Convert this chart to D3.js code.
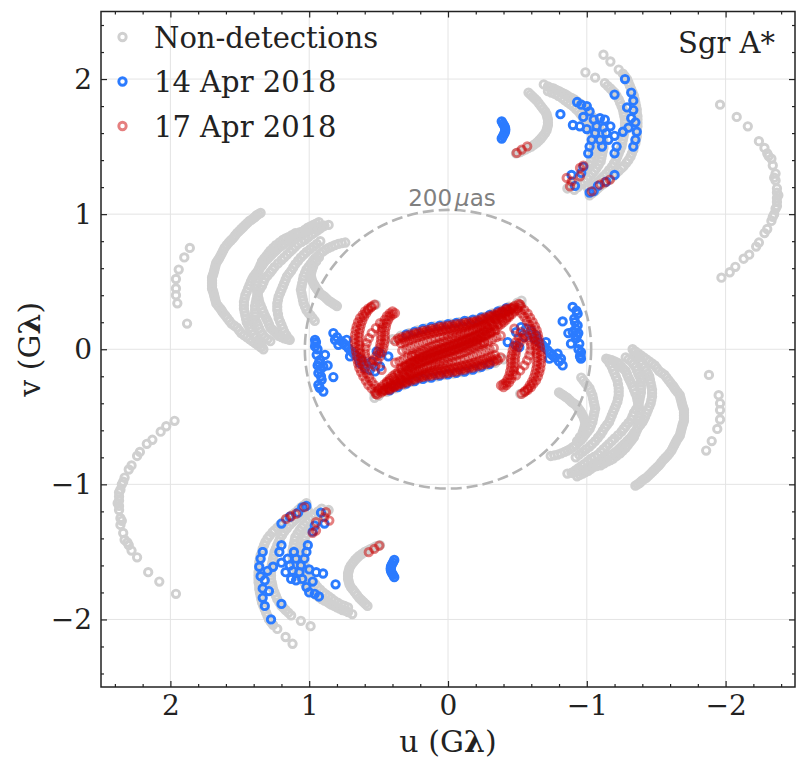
<!DOCTYPE html>
<html>
<head>
<meta charset="utf-8">
<script src="https://cdn.jsdelivr.net/npm/d3@7"></script>
<style>
  body { margin: 0; background: #fff; }
  svg text { font-family: "DejaVu Serif", serif; fill: #222; }
</style>
</head>
<body>
<svg id="chart" width="806" height="771"></svg>
<script>
// uv points in G-lambda, one half of the plane only:
// every baseline also samples the conjugate point (-u, -v), added when drawing.

// non-detections, long outer arcs
const nonDetOuter = [
  [1.97,-0.53],[2.03,-0.57],[2.07,-0.61],[2.13,-0.67],[2.17,-0.70],[2.22,-0.76],[2.24,-0.79],[2.28,-0.86],
  [2.30,-0.89],[2.33,-0.95],[2.34,-0.98],[2.35,-1.00],[2.36,-1.04],[2.37,-1.06],[2.37,-1.09],[2.37,-1.12],
  [2.38,-1.14],[2.37,-1.16],[2.37,-1.19],[2.36,-1.25],[2.35,-1.27],[2.36,-1.30],[2.34,-1.36],[2.33,-1.41],
  [2.31,-1.43],[2.30,-1.45],[2.28,-1.49],[2.24,-1.54],[2.16,-1.65],[2.08,-1.72],[1.96,-1.81],
  [1.86,0.75],[1.90,0.68],[1.94,0.59],[1.96,0.52],[1.96,0.45],[1.96,0.40],[1.95,0.34],[1.88,0.19]
];

// non-detections, the thick bands west of the centre
const nonDetBands = [
  // arc A
  [1.35,1.01],[1.365,1.00],[1.38,0.99],[1.39,0.98],[1.40,0.97],[1.415,0.96],[1.43,0.95],[1.445,0.935],
  [1.46,0.92],[1.475,0.905],[1.49,0.89],[1.505,0.875],[1.52,0.86],[1.535,0.84],[1.55,0.82],[1.565,0.805],
  [1.58,0.79],[1.595,0.77],[1.61,0.75],[1.62,0.73],[1.63,0.71],[1.64,0.69],[1.65,0.67],[1.66,0.655],
  [1.67,0.64],[1.675,0.62],[1.68,0.60],[1.685,0.58],[1.69,0.56],[1.695,0.545],[1.70,0.53],[1.70,0.51],
  [1.70,0.49],[1.70,0.47],[1.70,0.45],[1.695,0.435],[1.69,0.42],[1.685,0.40],[1.68,0.38],[1.675,0.36],
  [1.67,0.34],[1.655,0.32],[1.64,0.30],[1.63,0.285],[1.62,0.27],[1.605,0.25],[1.59,0.23],[1.575,0.21],
  [1.56,0.19],[1.54,0.175],[1.52,0.16],[1.505,0.14],[1.49,0.12],[1.47,0.105],[1.45,0.09],[1.43,0.075],
  [1.41,0.06],[1.39,0.045],[1.37,0.03],[1.35,0.015],[1.33,0.00],
  // band B, outer track
  [0.93,0.94],[0.95,0.93],[0.97,0.92],[0.99,0.91],[1.01,0.90],[1.03,0.885],[1.05,0.87],[1.07,0.86],
  [1.09,0.85],[1.115,0.83],[1.14,0.81],[1.16,0.795],[1.18,0.78],[1.20,0.765],[1.22,0.75],[1.235,0.735],
  [1.25,0.72],[1.27,0.70],[1.29,0.68],[1.305,0.665],[1.32,0.65],[1.33,0.635],[1.34,0.62],[1.355,0.60],
  [1.37,0.58],[1.385,0.56],[1.40,0.54],[1.41,0.52],[1.42,0.50],[1.43,0.475],[1.44,0.45],[1.45,0.425],
  [1.46,0.40],[1.465,0.375],[1.47,0.35],[1.47,0.325],[1.47,0.30],[1.465,0.275],[1.46,0.25],[1.455,0.225],
  [1.45,0.20],[1.44,0.18],[1.43,0.16],[1.415,0.135],[1.40,0.11],[1.385,0.085],[1.37,0.06],[1.355,0.04],[1.34,0.02],
  // band B, middle tracks
  [0.90,0.91],[0.92,0.895],[0.94,0.88],[0.96,0.865],[0.98,0.85],[1.005,0.83],[1.03,0.81],[1.055,0.795],
  [1.08,0.78],[1.10,0.76],[1.12,0.74],[1.14,0.72],[1.16,0.70],[1.18,0.68],[1.20,0.66],[1.225,0.635],
  [1.25,0.61],[1.265,0.59],[1.28,0.57],[1.30,0.545],[1.32,0.52],[1.33,0.495],[1.34,0.47],[1.355,0.445],
  [1.37,0.42],[1.375,0.395],[1.38,0.37],[1.385,0.345],[1.39,0.32],[1.39,0.295],[1.39,0.27],[1.39,0.245],
  [1.39,0.22],[1.38,0.20],[1.37,0.18],[1.36,0.155],[1.35,0.13],[1.335,0.11],[1.32,0.09],[1.30,0.075],[1.28,0.06],
  [0.86,0.92],[0.89,0.915],[0.92,0.91],[0.95,0.90],[0.98,0.89],[1.01,0.88],[1.04,0.87],[1.07,0.865],
  [1.10,0.86],[1.125,0.845],[1.15,0.83],[1.17,0.82],[1.19,0.81],[1.215,0.79],[1.24,0.77],[1.26,0.75],
  [1.28,0.73],[1.295,0.71],[1.31,0.69],[1.325,0.67],[1.34,0.65],[1.35,0.625],[1.36,0.60],[1.365,0.575],
  [1.37,0.55],[1.375,0.525],[1.38,0.50],[1.38,0.475],[1.38,0.45],[1.375,0.425],[1.37,0.40],[1.365,0.375],
  [1.36,0.35],[1.35,0.325],[1.34,0.30],[1.33,0.275],[1.32,0.25],[1.31,0.23],[1.30,0.21],[1.29,0.185],
  [1.28,0.16],[1.265,0.145],[1.25,0.13],[1.235,0.115],[1.22,0.10],[1.20,0.09],[1.18,0.08],[1.16,0.075],[1.14,0.07],
  // band B, inner track
  [0.92,0.80],[0.945,0.78],[0.97,0.76],[0.995,0.74],[1.02,0.72],[1.04,0.70],[1.06,0.68],[1.08,0.655],
  [1.10,0.63],[1.115,0.605],[1.13,0.58],[1.145,0.56],[1.16,0.54],[1.17,0.515],[1.18,0.49],[1.19,0.465],
  [1.20,0.44],[1.21,0.415],[1.22,0.39],[1.225,0.365],[1.23,0.34],[1.23,0.315],[1.23,0.29],[1.225,0.26],
  [1.22,0.23],[1.21,0.205],[1.20,0.18],[1.19,0.155],[1.18,0.13],[1.165,0.105],[1.15,0.08],
  // arcs C and D
  [0.74,0.79],[0.765,0.785],[0.79,0.78],[0.815,0.77],[0.84,0.76],[0.86,0.75],[0.88,0.74],[0.90,0.725],
  [0.92,0.71],[0.94,0.69],[0.96,0.67],[0.975,0.65],[0.99,0.63],[1.005,0.61],[1.02,0.59],[1.03,0.565],
  [1.04,0.54],[1.045,0.515],[1.05,0.49],[1.055,0.465],[1.06,0.44],[1.055,0.415],[1.05,0.39],[1.045,0.365],
  [1.04,0.34],[1.03,0.315],[1.02,0.29],[1.005,0.27],[0.99,0.25],[0.975,0.23],[0.96,0.21],
  [0.80,0.32],[0.815,0.33],[0.83,0.34],[0.845,0.35],[0.86,0.36],[0.875,0.375],[0.89,0.39],[0.905,0.40],
  [0.92,0.41],[0.93,0.425],[0.94,0.44],[0.95,0.455],[0.96,0.47],[0.97,0.49],[0.98,0.51],[0.985,0.53],
  [0.99,0.55],[0.985,0.57],[0.98,0.59],[0.975,0.605],[0.97,0.62],[0.95,0.65],[0.93,0.68]
];

// non-detections, north-east group
const nonDetNorth = [
  [-1.12,2.18],[-1.17,2.13],[-1.23,2.07],[-1.26,2.04],[-1.275,2.02],[-1.29,2.00],[-1.30,1.975],[-1.31,1.95],
  [-1.32,1.925],[-1.33,1.90],[-1.34,1.875],[-1.345,1.85],[-1.35,1.825],[-1.355,1.80],[-1.36,1.775],[-1.36,1.75],
  [-1.365,1.725],[-1.365,1.70],[-1.365,1.675],[-1.365,1.65],[-1.36,1.625],[-1.36,1.60],[-1.36,1.575],[-1.355,1.55],
  [-1.35,1.525],[-1.34,1.50],[-1.335,1.475],[-1.325,1.45],[-1.315,1.425],[-1.30,1.40],[-1.285,1.38],[-1.265,1.355],
  [-1.25,1.34],[-1.23,1.32],[-1.21,1.30],[-1.19,1.28],[-1.165,1.26],[-1.14,1.24],[-1.12,1.225],[-1.10,1.21],
  [-1.08,1.19],[-1.06,1.17],[-1.04,1.155],[-1.02,1.14],
  [-0.99,2.05],[-1.06,2.01],[-1.13,1.97],[-1.15,1.95],[-1.17,1.93],[-1.185,1.915],[-1.20,1.90],[-1.215,1.875],
  [-1.23,1.85],[-1.24,1.825],[-1.25,1.80],[-1.26,1.775],[-1.265,1.75],[-1.27,1.725],[-1.275,1.70],[-1.275,1.675],
  [-1.275,1.65],[-1.275,1.625],[-1.27,1.60],[-1.265,1.575],[-1.26,1.55],[-1.255,1.525],[-1.25,1.50],[-1.24,1.475],
  [-1.23,1.45],[-1.22,1.425],[-1.21,1.40],[-1.195,1.375],[-1.18,1.35],[-1.16,1.325],[-1.14,1.30],[-1.12,1.28],
  [-1.10,1.26],[-1.08,1.24],[-1.06,1.22],[-1.035,1.205],[-1.01,1.19],
  [-0.69,1.96],[-0.72,1.945],[-0.74,1.935],[-0.76,1.93],[-0.78,1.92],[-0.80,1.91],[-0.82,1.90],[-0.84,1.89],
  [-0.855,1.88],[-0.87,1.87],[-0.89,1.86],[-0.91,1.85],[-0.93,1.835],[-0.95,1.82],[-0.965,1.805],[-0.98,1.79],
  [-0.995,1.775],[-1.01,1.76],[-1.025,1.74],[-1.04,1.72],[-1.055,1.70],[-1.07,1.68],[-1.08,1.66],[-1.09,1.64],
  [-1.10,1.615],[-1.11,1.59],[-1.115,1.565],[-1.12,1.54],[-1.12,1.515],[-1.12,1.49],[-1.115,1.465],[-1.11,1.44],
  [-1.105,1.415],[-1.10,1.39],[-1.085,1.365],[-1.07,1.34],[-1.055,1.32],[-1.04,1.30],[-1.02,1.28],[-1.00,1.26],
  [-0.98,1.24],[-0.96,1.22],[-0.935,1.20],[-0.91,1.18],
  [-0.72,1.91],[-0.745,1.90],[-0.77,1.89],[-0.795,1.875],[-0.82,1.86],[-0.84,1.845],[-0.86,1.83],[-0.88,1.815],
  [-0.90,1.80],[-0.92,1.78],[-0.94,1.76],[-0.955,1.74],[-0.97,1.72],[-0.985,1.70],[-1.00,1.68],[-1.01,1.66],
  [-1.02,1.64],[-1.03,1.615],[-1.04,1.59],[-1.045,1.565],[-1.05,1.54],[-1.05,1.515],[-1.05,1.49],[-1.045,1.465],
  [-1.04,1.44],[-1.035,1.415],[-1.03,1.39],[-1.015,1.365],[-1.00,1.34],[-0.985,1.32],[-0.97,1.30],[-0.95,1.28],
  [-0.93,1.26],[-0.91,1.24],[-0.89,1.22],[-0.875,1.205],[-0.86,1.19],
  [-0.58,1.90],[-0.595,1.885],[-0.61,1.87],[-0.625,1.855],[-0.64,1.84],[-0.655,1.82],[-0.67,1.80],[-0.685,1.78],
  [-0.70,1.76],[-0.71,1.74],[-0.715,1.72],[-0.72,1.70],[-0.72,1.68],[-0.72,1.66],[-0.715,1.64],[-0.71,1.62],
  [-0.70,1.60],[-0.685,1.58],[-0.67,1.56],[-0.655,1.545],[-0.64,1.53],[-0.62,1.515],[-0.60,1.50],[-0.58,1.49],
  [-0.56,1.48],[-0.54,1.47],[-0.52,1.46],[-0.505,1.455],[-0.49,1.45]
];

// non-detections hidden under the short baselines
const nonDetCore = [
  [0.40,0.075],[0.34,0.10],[0.28,0.12],[0.22,0.14],[0.16,0.155],[0.10,0.17],[0.04,0.18],[-0.02,0.19],
  [-0.08,0.20],[-0.14,0.21],[-0.20,0.22],[-0.26,0.24],[-0.32,0.265],[-0.38,0.29],[-0.44,0.315],[-0.50,0.345],
  [-0.53,0.36],[0.52,0.33],[0.53,-0.33]
];

// 14 Apr 2018
const apr14North = [
  [-1.275,2.00],[-1.32,1.90],[-1.335,1.84],[-1.335,1.77],[-1.32,1.71],[-1.35,1.68],[-1.36,1.61],[-1.35,1.55],
  [-1.335,1.50],[-1.29,1.79],[-1.30,1.64],[-1.26,1.61],
  [-1.20,1.885],[-1.215,1.50],[-1.20,1.45],[-1.20,1.58],[-1.17,1.65],[-1.14,1.60],[-0.93,1.83],[-0.96,1.81],
  [-1.00,1.80],[-1.02,1.76],[-0.975,1.72],[-1.05,1.70],[-1.095,1.71],[-1.13,1.70],[-1.095,1.55],[-1.035,1.55],
  [-1.02,1.50],[-1.01,1.45],[-1.11,1.50],[-0.95,1.65],[-0.90,1.66],[-0.81,1.74],[-1.00,1.63],[-1.06,1.60],
  [-1.07,1.65],[-1.12,1.64],[-1.155,1.55],
  [-0.89,1.29],[-0.915,1.21],[-0.975,1.35],[-0.96,1.305],[-1.02,1.16],[-1.05,1.17],[-1.08,1.21],[-1.14,1.24],[-1.20,1.29],
  [-0.387,1.687],[-0.396,1.670],[-0.405,1.655],[-0.411,1.64],[-0.413,1.625],[-0.411,1.61],[-0.405,1.595],
  [-0.396,1.578],[-0.387,1.56]
];

const apr14Core = [
  [0.958,0.07],[0.958,0.021],[0.946,-0.041],[0.922,-0.078],[0.886,-0.041],[0.898,-0.128],[0.934,-0.176],
  [0.91,-0.226],[0.934,-0.263],[0.898,-0.313],[0.826,-0.206],[0.939,-0.12],[0.951,0.053],[0.867,-0.12],[0.94,0.00],
  [0.955,0.045],[0.93,-0.10],[0.92,-0.15],[0.915,-0.20],[0.925,-0.285],
  [0.826,0.120],[0.814,0.070],[0.790,0.033],[0.754,0.046],[0.730,0.070],[0.718,0.009],[0.694,-0.016],
  [0.706,-0.053],[0.670,-0.041],[0.646,-0.065],[0.634,-0.102],[0.598,-0.139],[0.562,-0.152],[0.526,-0.164],
  [0.514,-0.016],[0.490,-0.028],[0.430,-0.053],[0.550,-0.090],[0.586,-0.115],[0.490,-0.127],
  [0.80,0.09],[0.77,0.06],[0.74,0.03],[0.68,-0.03],[0.62,-0.08],
  [0.30,0.11],[0.24,0.13],[0.18,0.15],[0.12,0.165],[0.06,0.175],[0.00,0.185],[-0.06,0.195],[-0.12,0.21],
  [-0.18,0.22],[-0.24,0.235],[-0.30,0.255],[-0.36,0.28],[-0.42,0.305]
];

// 17 Apr 2018
const apr17North = [
  [-0.495,1.453],[-0.531,1.478],[-0.571,1.502],[-0.855,1.268],[-0.879,1.206],[-0.891,1.243],[-0.951,1.342],
  [-0.951,1.28],[-0.975,1.359],[-1.035,1.169],[-1.095,1.219],[-1.131,1.236],[-1.167,1.256]
];

const apr17Core = [
  // curved tracks west of the centre
  [0.55,0.317],[0.575,0.30],[0.598,0.28],[0.615,0.255],[0.634,0.231],[0.648,0.20],[0.658,0.169],[0.665,0.14],
  [0.67,0.107],[0.672,0.075],[0.67,0.046],[0.667,0.015],[0.663,-0.016],[0.658,-0.047],[0.653,-0.078],
  [0.647,-0.108],[0.639,-0.139],[0.626,-0.17],[0.61,-0.201],[0.592,-0.232],[0.574,-0.263],[0.55,-0.29],[0.526,-0.313],
  [0.53,0.33],[0.555,0.31],[0.575,0.29],[0.59,0.265],[0.605,0.24],[0.618,0.21],[0.628,0.18],[0.635,0.15],
  [0.64,0.12],[0.642,0.09],[0.642,0.06],[0.64,0.03],[0.636,0.00],[0.632,-0.03],[0.627,-0.06],[0.62,-0.09],
  [0.612,-0.12],[0.60,-0.15],[0.585,-0.18],[0.568,-0.21],[0.55,-0.24],[0.53,-0.265],[0.505,-0.29],
  [0.382,0.268],[0.40,0.256],[0.418,0.243],[0.43,0.22],[0.442,0.194],[0.448,0.163],[0.454,0.132],[0.455,0.10],
  [0.454,0.07],[0.46,0.04],[0.466,0.009],[0.476,-0.022],[0.49,-0.053],[0.509,-0.09],
  [0.40,0.28],[0.42,0.265],[0.44,0.245],[0.455,0.22],[0.467,0.19],[0.475,0.16],[0.48,0.13],[0.482,0.10],
  [0.483,0.07],[0.487,0.04],[0.493,0.01],[0.503,-0.02],[0.517,-0.05],[0.535,-0.08],
  [0.49,0.194],[0.52,0.157],[0.55,0.12],[0.57,0.083],[0.586,0.046],[0.595,0.01],[0.598,-0.028],[0.59,-0.06],
  [0.574,-0.09],[0.55,-0.11],[0.526,-0.127],[0.478,-0.152],
  // the dense central band
  [0.36,0.08],[0.33,0.09],[0.30,0.10],[0.27,0.11],[0.24,0.12],[0.21,0.127],[0.18,0.135],[0.15,0.142],
  [0.12,0.15],[0.09,0.157],[0.06,0.165],[0.03,0.17],[0.00,0.175],[-0.03,0.18],[-0.06,0.185],[-0.09,0.19],
  [-0.12,0.195],[-0.15,0.20],[-0.18,0.205],[-0.21,0.213],[-0.24,0.225],[-0.27,0.235],[-0.30,0.247],[-0.33,0.258],
  [-0.36,0.27],[-0.39,0.282],[-0.42,0.293],[-0.45,0.305],[-0.48,0.32],[-0.51,0.335],
  [0.38,0.06],[0.35,0.07],[0.32,0.078],[0.29,0.088],[0.26,0.098],[0.23,0.108],[0.20,0.115],[0.17,0.122],
  [0.14,0.13],[0.11,0.137],[0.08,0.145],[0.05,0.15],[0.02,0.155],[-0.01,0.16],[-0.04,0.165],[-0.07,0.17],
  [-0.10,0.177],[-0.13,0.183],[-0.16,0.19],[-0.19,0.197],[-0.22,0.205],[-0.25,0.215],[-0.28,0.227],[-0.31,0.24],
  [-0.34,0.25],[-0.37,0.262],[-0.40,0.275],[-0.43,0.288],[-0.46,0.30],
  [0.52,-0.33],[0.50,-0.305],[0.48,-0.28],[0.46,-0.26],[0.44,-0.24],[0.42,-0.22],[0.40,-0.20],[0.38,-0.185],
  [0.36,-0.17],[0.33,-0.147],[0.30,-0.125],[0.27,-0.105],[0.24,-0.09],[0.21,-0.075],[0.18,-0.06],[0.15,-0.047],
  [0.12,-0.035],[0.09,-0.024],[0.06,-0.012],[0.03,0.00],[0.00,0.01],[-0.03,0.021],[-0.06,0.032],[-0.09,0.045],
  [-0.12,0.06],[-0.15,0.072],[-0.18,0.085],[-0.21,0.10],[-0.24,0.115],[-0.27,0.133],[-0.30,0.152],[-0.33,0.172],
  [-0.36,0.19],[-0.39,0.212],[-0.42,0.235],[-0.44,0.25],
  [0.38,-0.10],[0.35,-0.09],[0.32,-0.075],[0.29,-0.06],[0.26,-0.05],[0.23,-0.04],[0.20,-0.03],[0.17,-0.02],
  [0.14,-0.012],[0.11,-0.005],[0.08,0.003],[0.05,0.012],[0.02,0.02],[-0.01,0.03],[-0.04,0.04],[-0.07,0.05],
  [-0.10,0.06],[-0.13,0.07],[-0.16,0.08],[-0.19,0.09],[-0.22,0.10],[-0.25,0.11],[-0.28,0.12],[-0.31,0.13],
  [0.33,-0.01],[0.30,0.00],[0.27,0.015],[0.24,0.027],[0.21,0.039],[0.18,0.05],[0.15,0.061],[0.12,0.07],
  [0.09,0.078],[0.06,0.085],[0.03,0.092],[0.00,0.10],[-0.03,0.108],[-0.06,0.115],[-0.09,0.122],[-0.12,0.13],
  [-0.15,0.137],[-0.18,0.15],[-0.21,0.161],[-0.24,0.172],[-0.27,0.183],[-0.30,0.20],[-0.34,0.225],
  [0.42,-0.30],[0.39,-0.277],[0.36,-0.255],[0.33,-0.232],[0.30,-0.21],[0.27,-0.187],[0.24,-0.17],[0.21,-0.155],
  [0.18,-0.14],[0.15,-0.125],[0.12,-0.112],[0.09,-0.10],[0.06,-0.09],[0.03,-0.079],[0.00,-0.067],[-0.03,-0.056],
  [-0.06,-0.045],[-0.09,-0.034],[-0.12,-0.02],[-0.15,-0.005],[-0.18,0.01],[-0.21,0.025],[-0.24,0.04],[-0.26,0.05],
  [0.34,0.045],[0.31,0.057],[0.28,0.068],[0.25,0.08],[0.22,0.09],[0.19,0.10],[0.16,0.108],[0.13,0.116],
  [0.10,0.123],[0.07,0.13],[0.04,0.135],[0.01,0.14],[-0.02,0.145],[-0.05,0.15],[-0.08,0.157],[-0.11,0.163],
  [-0.14,0.17],[-0.17,0.177],[-0.20,0.185],[-0.23,0.195],[-0.26,0.207],[-0.29,0.22],[-0.32,0.232],[-0.35,0.245],
  [-0.38,0.258],[-0.41,0.27],[-0.44,0.282],[-0.47,0.295],
  [0.47,-0.31],[0.44,-0.28],[0.41,-0.255],[0.38,-0.23],[0.35,-0.205],[0.32,-0.18],[0.29,-0.16],[0.26,-0.14],
  [0.23,-0.122],[0.20,-0.105],[0.17,-0.09],[0.14,-0.077],[0.11,-0.065],[0.08,-0.053],[0.05,-0.042],[0.02,-0.03],
  [-0.01,-0.02],[-0.04,-0.008],[-0.07,0.005],[-0.10,0.018],[-0.13,0.03],[-0.16,0.043],[-0.19,0.057],[-0.22,0.072],
  [-0.25,0.088],[-0.28,0.104],[-0.31,0.12],[-0.34,0.14]
];

const majorTicks = [-2, -1, 0, 1, 2];
const minorTicks = [-2.4, -2.2, -1.8, -1.6, -1.4, -1.2, -0.8, -0.6, -0.4, -0.2,
                    0.2, 0.4, 0.6, 0.8, 1.2, 1.4, 1.6, 1.8, 2.2, 2.4];
const legendLabels = ["Non-detections", "14 Apr 2018", "17 Apr 2018"];
const ringMicroArcsec = 200;

const colors = { nondet: "#d0d0d0", apr14: "#2b7bff", apr17: "#cc0000" };

const svg = d3.select("#chart");
const plotLeft = 101, plotRight = 795, plotTop = 11.5, plotBottom = 687;
const markerR = 3.7, markerW = 2.9;

const x = d3.scaleLinear().domain([2.5, -2.5]).range([plotLeft, plotRight]);
const y = d3.scaleLinear().domain([-2.5, 2.5]).range([plotBottom, plotTop]);

const fmt = (d) => (d < 0 ? "\u2212" + Math.abs(d) : String(d));

// grid
const grid = svg.append("g").attr("stroke", "#e4e4e4").attr("stroke-width", 1);
grid.selectAll(".gx").data(majorTicks).join("line")
  .attr("x1", (d) => x(d)).attr("x2", (d) => x(d))
  .attr("y1", plotTop).attr("y2", plotBottom);
grid.selectAll(".gy").data(majorTicks).join("line")
  .attr("y1", (d) => y(d)).attr("y2", (d) => y(d))
  .attr("x1", plotLeft).attr("x2", plotRight);

// both halves of the uv plane
const withConjugate = (pts) => pts.flatMap(([u, v]) => [[u, v], [-u, -v]]);

const drawSeries = (data, color, opacity) => {
  svg.append("g")
    .selectAll("circle")
    .data(withConjugate(data))
    .join("circle")
    .attr("cx", (d) => x(d[0]))
    .attr("cy", (d) => y(d[1]))
    .attr("r", markerR)
    .attr("fill", "none")
    .attr("stroke", color)
    .attr("stroke-opacity", opacity)
    .attr("stroke-width", markerW);
};

drawSeries([].concat(nonDetOuter, nonDetBands, nonDetNorth, nonDetCore), colors.nondet, 1);

// 200 micro-arcsecond fringe spacing circle
const ringRadius = 1 / (ringMicroArcsec * 1e-6 / 206264.806) / 1e9;
svg.append("ellipse")
  .attr("cx", x(0)).attr("cy", y(0))
  .attr("rx", x(0) - x(ringRadius))
  .attr("ry", y(0) - y(ringRadius))
  .attr("fill", "none")
  .attr("stroke", "#b4b4b4")
  .attr("stroke-width", 2.6)
  .attr("stroke-dasharray", "11,5");

const ringLabel = svg.append("text")
  .attr("x", x(0) + 4)
  .attr("y", y(ringRadius) - 4)
  .attr("text-anchor", "middle")
  .style("font-family", "'DejaVu Sans', sans-serif")
  .style("font-size", "23px")
  .style("fill", "#808080");
ringLabel.append("tspan").text("200");
ringLabel.append("tspan").attr("dx", 3).style("font-style", "italic").text("\u03bc");
ringLabel.append("tspan").text("as");

drawSeries([].concat(apr14North, apr14Core), colors.apr14, 1);
drawSeries([].concat(apr17North, apr17Core), colors.apr17, 0.5);

// axes, ticks pointing inward on all four sides
const styleAxis = (g) => {
  g.select(".domain").remove();
  g.selectAll(".tick line").attr("stroke", "#222").attr("stroke-width", 1.2);
  g.selectAll(".tick text").style("font-size", "28px").style("fill", "#222");
};

svg.append("g").attr("transform", `translate(0,${plotBottom})`)
  .call(d3.axisBottom(x).tickValues(majorTicks).tickSize(-6).tickPadding(8).tickFormat(fmt))
  .call(styleAxis);
svg.append("g").attr("transform", `translate(${plotLeft},0)`)
  .call(d3.axisLeft(y).tickValues(majorTicks).tickSize(-6).tickPadding(9).tickFormat(fmt))
  .call(styleAxis);
svg.append("g").attr("transform", `translate(0,${plotTop})`)
  .call(d3.axisTop(x).tickValues(majorTicks).tickSize(-6).tickFormat(""))
  .call(styleAxis);
svg.append("g").attr("transform", `translate(${plotRight},0)`)
  .call(d3.axisRight(y).tickValues(majorTicks).tickSize(-6).tickFormat(""))
  .call(styleAxis);

[[d3.axisBottom(x), `translate(0,${plotBottom})`], [d3.axisTop(x), `translate(0,${plotTop})`],
 [d3.axisLeft(y), `translate(${plotLeft},0)`], [d3.axisRight(y), `translate(${plotRight},0)`]]
  .forEach(([axis, tr]) => {
    svg.append("g").attr("transform", tr)
      .call(axis.tickValues(minorTicks).tickSize(-3).tickFormat(""))
      .call(styleAxis);
  });

svg.append("rect")
  .attr("x", plotLeft).attr("y", plotTop)
  .attr("width", plotRight - plotLeft).attr("height", plotBottom - plotTop)
  .attr("fill", "none").attr("stroke", "#222").attr("stroke-width", 1.5);

// axis titles
const xTitle = svg.append("text")
  .attr("x", (plotLeft + plotRight) / 2).attr("y", 752)
  .attr("text-anchor", "middle").style("font-size", "30px");
xTitle.append("tspan").text("u (G");
xTitle.append("tspan").style("font-weight", "bold").text("\u03bb");
xTitle.append("tspan").text(")");

const yTitle = svg.append("text")
  .attr("transform", `translate(40,${(plotTop + plotBottom) / 2}) rotate(-90)`)
  .attr("text-anchor", "middle").style("font-size", "30px");
yTitle.append("tspan").text("v (G");
yTitle.append("tspan").style("font-weight", "bold").text("\u03bb");
yTitle.append("tspan").text(")");

// legend
const legendColors = [colors.nondet, colors.apr14, colors.apr17];
const legendOpacity = [1, 1, 0.5];
const legend = svg.append("g");
legendLabels.forEach((label, i) => {
  const ly = 37 + i * 44.5;
  legend.append("circle")
    .attr("cx", 122.5).attr("cy", ly).attr("r", markerR)
    .attr("fill", "none")
    .attr("stroke", legendColors[i])
    .attr("stroke-opacity", legendOpacity[i])
    .attr("stroke-width", markerW);
  legend.append("text")
    .attr("x", 154).attr("y", ly + 10.5)
    .style("font-size", "29px")
    .text(label);
});

svg.append("text")
  .attr("x", 775).attr("y", 53)
  .attr("text-anchor", "end")
  .style("font-size", "29px")
  .text("Sgr A*");
</script>
</body>
</html>
